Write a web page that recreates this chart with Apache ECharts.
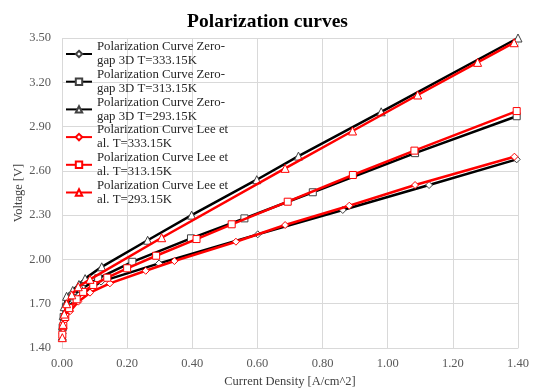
<!DOCTYPE html>
<html>
<head>
<meta charset="utf-8">
<script src="https://cdn.jsdelivr.net/npm/echarts@6/dist/echarts.min.js"></script>
<style>
  html, body { margin: 0; padding: 0; background: #fff; }
  #chart { width: 535px; height: 388px; }
</style>
</head>
<body>
<div id="chart"></div>
<script>
const seriesNames = [
  "Polarization Curve Zero-gap 3D T=333.15K",
  "Polarization Curve Zero-gap 3D T=313.15K",
  "Polarization Curve Zero-gap 3D T=293.15K",
  "Polarization Curve Lee et al. T=333.15K",
  "Polarization Curve Lee et al. T=313.15K",
  "Polarization Curve Lee et al. T=293.15K"
]
const legendLabels = [
  "Polarization Curve Zero-\ngap 3D T=333.15K",
  "Polarization Curve Zero-\ngap 3D T=313.15K",
  "Polarization Curve Zero-\ngap 3D T=293.15K",
  "Polarization Curve Lee et\nal. T=333.15K",
  "Polarization Curve Lee et\nal. T=313.15K",
  "Polarization Curve Lee et\nal. T=293.15K"
]

// [current density A/cm^2, voltage V]
const zeroGap333 = [[0.002, 1.50], [0.006, 1.58], [0.015, 1.65], [0.035, 1.72], [0.07, 1.78], [0.12, 1.85], [0.298, 1.973], [0.601, 2.17], [0.862, 2.335], [1.127, 2.504], [1.396, 2.678]]
const zeroGap313 = [[0.002, 1.54], [0.005, 1.61], [0.012, 1.68], [0.03, 1.75], [0.06, 1.80], [0.111, 1.872], [0.216, 1.984], [0.396, 2.143], [0.56, 2.278], [0.77, 2.455], [1.084, 2.72], [1.396, 2.97]]
const zeroGap293 = [[0.001, 1.48], [0.002, 1.55], [0.004, 1.62], [0.007, 1.68], [0.014, 1.75], [0.033, 1.79], [0.052, 1.83], [0.071, 1.87], [0.122, 1.95], [0.263, 2.13], [0.398, 2.30], [0.598, 2.54], [0.726, 2.70], [0.98, 3.00], [1.40, 3.50]]
const lee333 = [[0.003, 1.53], [0.01, 1.59], [0.025, 1.65], [0.05, 1.714], [0.086, 1.775], [0.147, 1.838], [0.257, 1.923], [0.345, 1.989], [0.534, 2.12], [0.685, 2.233], [0.882, 2.364], [1.084, 2.504], [1.389, 2.696]]
const lee313 = [[0.001, 1.49], [0.004, 1.55], [0.01, 1.61], [0.022, 1.67], [0.045, 1.73], [0.065, 1.78], [0.096, 1.827], [0.139, 1.876], [0.2, 1.94], [0.289, 2.025], [0.413, 2.138], [0.521, 2.238], [0.693, 2.391], [0.893, 2.572], [1.082, 2.737], [1.396, 3.005]]
const lee293 = [[0.001, 1.47], [0.003, 1.56], [0.007, 1.63], [0.014, 1.70], [0.03, 1.76], [0.05, 1.815], [0.086, 1.865], [0.306, 2.147], [0.685, 2.617], [0.892, 2.87], [1.092, 3.114], [1.276, 3.335], [1.388, 3.468]]

const xTicks = { min: 0, max: 1.4, step: 0.2 }
const yTicks = { min: 1.4, max: 3.5, step: 0.3 }

const serif = "Liberation Serif"
const allData = [zeroGap333, zeroGap313, zeroGap293, lee333, lee313, lee293]
const symbols = ["diamond", "rect", "triangle", "diamond", "rect", "triangle"]

const chart = echarts.init(document.getElementById("chart"))

const series = allData.map((data, i) => {
  const isLee = i >= 3
  const lineColor = isLee ? "#ff0000" : "#000000"
  const markColor = isLee ? "#ff0000" : "#404040"
  return {
    name: seriesNames[i],
    type: "line",
    data: data,
    symbol: symbols[i],
    symbolSize: symbols[i] === "triangle" ? 8 : 7,
    showAllSymbol: true,
    lineStyle: { width: 2.5, color: lineColor },
    itemStyle: { color: "#ffffff", borderColor: markColor, borderWidth: 1 },
    emphasis: { disabled: true },
    z: isLee ? 3 : 2,
  }
})

const option = {
  backgroundColor: "#ffffff",
  animation: false,
  title: {
    text: "Polarization curves",
    left: "center",
    top: 7,
    textStyle: { fontFamily: serif, fontSize: 19.5, fontWeight: "bold", color: "#000" },
  },
  legend: {
    orient: "vertical",
    left: 65,
    top: 33,
    padding: 0,
    itemGap: -14.3,
    itemWidth: 26,
    itemHeight: 8,
    data: seriesNames,
    formatter: (name) => legendLabels[seriesNames.indexOf(name)],
    textStyle: {
      fontFamily: serif,
      fontSize: 12.8,
      lineHeight: 14,
      color: "#262626",
      padding: [14, 0, 0, 0],
    },
  },
  grid: { left: 62, right: 17, top: 38, bottom: 40, containLabel: false, outerBoundsMode: "none" },
  xAxis: {
    type: "value",
    min: xTicks.min,
    max: xTicks.max,
    interval: xTicks.step,
    name: "Current Density [A/cm^2]",
    nameLocation: "middle",
    nameGap: 26,
    nameTextStyle: { fontFamily: serif, fontSize: 12.5, color: "#404040" },
    axisLine: { show: true, lineStyle: { color: "#d9d9d9" } },
    axisTick: { show: false },
    axisLabel: { fontFamily: serif, fontSize: 12.5, color: "#595959", margin: 9, formatter: (v) => v.toFixed(2) },
    splitLine: { show: true, lineStyle: { color: "#d9d9d9", width: 1 } },
  },
  yAxis: {
    type: "value",
    min: yTicks.min,
    max: yTicks.max,
    interval: yTicks.step,
    name: "Voltage [V]",
    nameLocation: "middle",
    nameGap: 37,
    nameMoveOverlap: false,
    nameTextStyle: { fontFamily: serif, fontSize: 12.5, color: "#404040" },
    axisLine: { show: false },
    axisTick: { show: false },
    axisLabel: { fontFamily: serif, fontSize: 12.5, color: "#595959", margin: 11, formatter: (v) => v.toFixed(2) },
    splitLine: { show: true, lineStyle: { color: "#d9d9d9", width: 1 } },
  },
  series: series,
}

chart.setOption(option)
</script>
</body>
</html>
